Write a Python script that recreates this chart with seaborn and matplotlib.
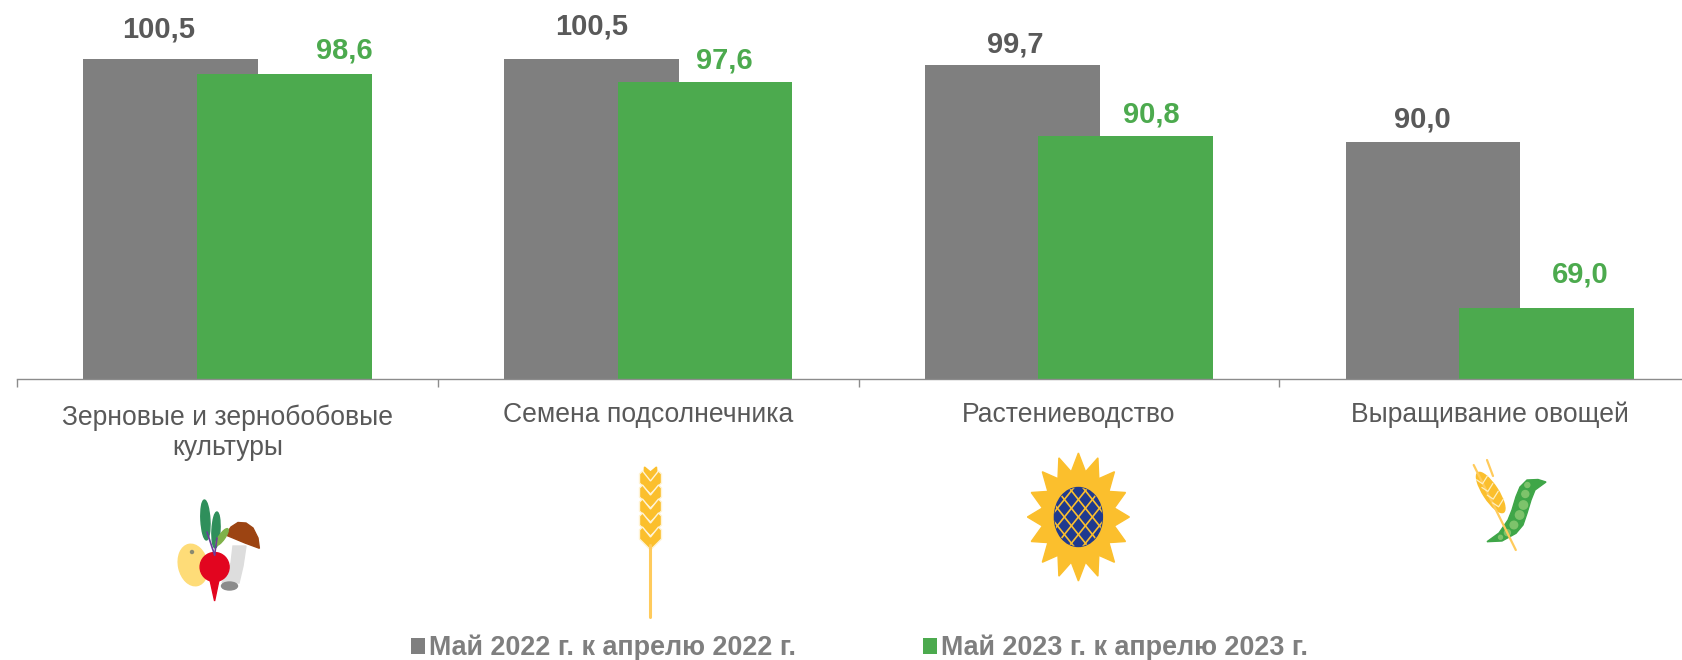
import numpy as np
import pandas as pd
import matplotlib
matplotlib.use('Agg')
import matplotlib.pyplot as plt
from matplotlib.patches import Circle, Ellipse, Polygon
from matplotlib.transforms import Affine2D
import seaborn as sns

# data
categories = ['Зерновые и зернобобовые\nкультуры', 'Семена подсолнечника', 'Растениеводство', 'Выращивание овощей']
series_names = ['Май 2022 г. к апрелю 2022 г.', 'Май 2023 г. к апрелю 2023 г.']
values_2022 = [100.5, 100.5, 99.7, 90.0]
values_2023 = [98.6, 97.6, 90.8, 69.0]
labels_2022 = ['100,5', '100,5', '99,7', '90,0']
labels_2023 = ['98,6', '97,6', '90,8', '69,0']

GREY = '#7f7f7f'
GREEN = '#4caa4e'
TEXT = '#595959'
YELLOW = '#fbbf2d'

sns.set_theme(style='white')
plt.rcParams['font.family'] = ['Liberation Sans', 'DejaVu Sans']

df = pd.DataFrame({
    'category': categories * 2,
    'series': [series_names[0]] * 4 + [series_names[1]] * 4,
    'value': values_2022 + values_2023,
})

W, H = 1683, 660
fig = plt.figure(figsize=(W / 100, H / 100), dpi=100)
ax = fig.add_axes([16.5 / W, (H - 379) / H, 1666.5 / W, 379 / H])

sns.barplot(data=df, x='category', y='value', hue='series', hue_order=series_names,
            palette=[GREY, GREEN], width=0.54, gap=-0.54, saturation=1, errorbar=None,
            linewidth=0, ax=ax)

ax.set_xlim(-0.5012, -0.5012 + 1666.5 / 420.8)
ax.set_ylim(60, 60 + 379 / 7.9)
ax.set_xlabel('')
ax.set_ylabel('')
ax.set_yticks([])
sns.despine(ax=ax, left=True)
ax.spines['bottom'].set_color('#8c8c8c')
ax.spines['bottom'].set_linewidth(1)
ax.tick_params(axis='x', which='major', length=0, pad=30.7, labelsize=19.1, labelcolor=TEXT)
ax.set_xticks(np.arange(-0.5, 3.5), minor=True)
ax.tick_params(axis='x', which='minor', bottom=True, length=6, width=1, color='#8c8c8c')
for lab in ax.get_xticklabels():
    lab.set_verticalalignment('baseline')
# baseline means the last line for a two line label, so push that one down a line
first = ax.get_xticklabels()[0]
first.set_transform(first.get_transform() + Affine2D().translate(0, -33))

# data labels are hand placed in the original, offsets in pixels from the bar top centre
offsets_2022 = [(-12, 30), (0, 33), (3, 21), (-11, 23)]
offsets_2023 = [(60, 24), (19, 21), (25, 21), (34, 33)]
bars = [p for c in ax.containers for p in c]
texts = labels_2022 + labels_2023
offsets = offsets_2022 + offsets_2023
for i, bar in enumerate(bars):
    color = TEXT if i < 4 else GREEN
    ax.annotate(texts[i], (bar.get_x() + bar.get_width() / 2, bar.get_height()),
                xytext=offsets[i], textcoords='offset pixels', ha='center', va='center',
                fontsize=21, fontweight='bold', color=color)

handles, leg_labels = ax.get_legend_handles_labels()
ax.get_legend().remove()
fig.legend(handles, leg_labels, ncol=2, loc='center left', bbox_to_anchor=(411 / W, (H - 648) / H),
           frameon=False, handlelength=0.52, handleheight=0.52, handletextpad=0.16,
           columnspacing=4.7, borderpad=0, borderaxespad=0, labelcolor=GREY,
           prop={'weight': 'bold', 'size': 19.35})

# icons, drawn on an overlay in pixel coordinates
ov = fig.add_axes([0, 0, 1, 1])
ov.set_xlim(0, W)
ov.set_ylim(H, 0)
ov.axis('off')
ov.patch.set_alpha(0)

# radish, potato, mushroom
ov.add_patch(Ellipse((193, 565), 29, 42, angle=-12, color='#fedc78'))
ov.add_patch(Circle((192, 552), 1.5, color='#8a8a70'))
ov.add_patch(Polygon([(233, 546), (246, 546), (243, 566), (239, 583), (222, 583), (231, 563)], color='#dddddd'))
ov.add_patch(Ellipse((229.5, 586), 16, 8, color='#8b8b8b'))
ov.add_patch(Polygon([(225.7, 535), (231, 527), (238, 522.5), (246, 523), (253, 528), (258, 538),
                      (259.4, 548.3), (245, 543), (233, 538)], color='#9c4412'))
ov.add_patch(Ellipse((205.4, 520), 9, 40, angle=-3, color='#2f8f5b'))
ov.add_patch(Ellipse((216, 530), 8, 36, angle=3, color='#2f8f5b'))
ov.add_patch(Ellipse((222, 537), 6, 20, angle=35, color='#7fb24a'))
ov.plot([207, 214.6], [532, 555], color='#6a3d9a', lw=1.2)
ov.plot([217, 214.6], [538, 555], color='#6a3d9a', lw=1.2)
ov.add_patch(Polygon([(210, 580), (219, 580), (214.6, 601)], color='#e2051f'))
ov.add_patch(Circle((214.6, 567), 14.5, color='#e2051f'))

# wheat ear
wx = 650.5
ov.plot([wx, wx], [545, 617], color='#ffcb5c', lw=2.2, solid_capstyle='round')
ov.add_patch(Polygon([(wx - 6, 467), (wx, 472), (wx + 6, 467), (wx + 7, 480), (wx, 486), (wx - 7, 480)], color=YELLOW))
for y0 in [478, 492, 506, 520, 534]:
    ov.add_patch(Polygon([(wx, y0 + 16), (wx - 11, y0 + 5), (wx - 11, y0 - 4), (wx - 8, y0 - 7),
                          (wx, y0 + 3), (wx + 8, y0 - 7), (wx + 11, y0 - 4), (wx + 11, y0 + 5)],
                         fc=YELLOW, ec='#fff4d6', lw=1))

# sunflower
cx, cy = 1078.4, 517
angles = np.linspace(0, 2 * np.pi, 32, endpoint=False) - np.pi / 2
radius = np.where(np.arange(32) % 2 == 0, 1.0, 0.72)
ov.add_patch(Polygon(np.column_stack([cx + 51 * radius * np.cos(angles), cy + 64 * radius * np.sin(angles)]),
                     color=YELLOW))
disk = Ellipse((cx, cy), 48, 59, color='#1f3a8f')
ov.add_patch(disk)
for d in np.arange(-70, 71, 14):
    for sign in (-1, 1):
        line, = ov.plot([cx + d - 40, cx + d + 40], [cy - sign * 50, cy + sign * 50], color=YELLOW, lw=1.2)
        line.set_clip_path(disk)

# wheat and pea pod
ov.plot([1473.7, 1515.8], [465, 550], color='#ffcb5c', lw=1.6)
ov.plot([1487, 1493], [460, 476], color='#ffcb5c', lw=1.6)
ov.add_patch(Ellipse((1490.7, 492.5), 15, 47, angle=-33, color=YELLOW))
for t in [0.15, 0.35, 0.55, 0.75]:
    x0, y0 = 1477.5 + 26.8 * t, 473 + 38.4 * t
    ov.plot([x0 - 5, x0 + 1, x0 + 6], [y0 + 1, y0 + 5, y0 - 3], color='#fff0c0', lw=0.9)
ov.add_patch(Polygon([(1546, 482), (1538, 479.5), (1527, 480), (1520, 487), (1516, 496.7), (1512, 510),
                      (1508, 520), (1499, 533), (1487, 541.7), (1502, 541), (1516, 533.3), (1523, 525),
                      (1527, 513.3), (1531, 500), (1535, 490)], color='#3fa648'))
peas = [(1527.3, 485, 2.5), (1525.3, 494, 3.5), (1523.4, 505, 4.2), (1519.6, 515, 4.2),
        (1513.9, 525, 3.8), (1507.4, 532.7, 3), (1500.5, 537.3, 2)]
for x, y, r in peas:
    ov.add_patch(Circle((x, y), r, color='#7dc36b'))

fig.savefig('out.png', dpi=100)
